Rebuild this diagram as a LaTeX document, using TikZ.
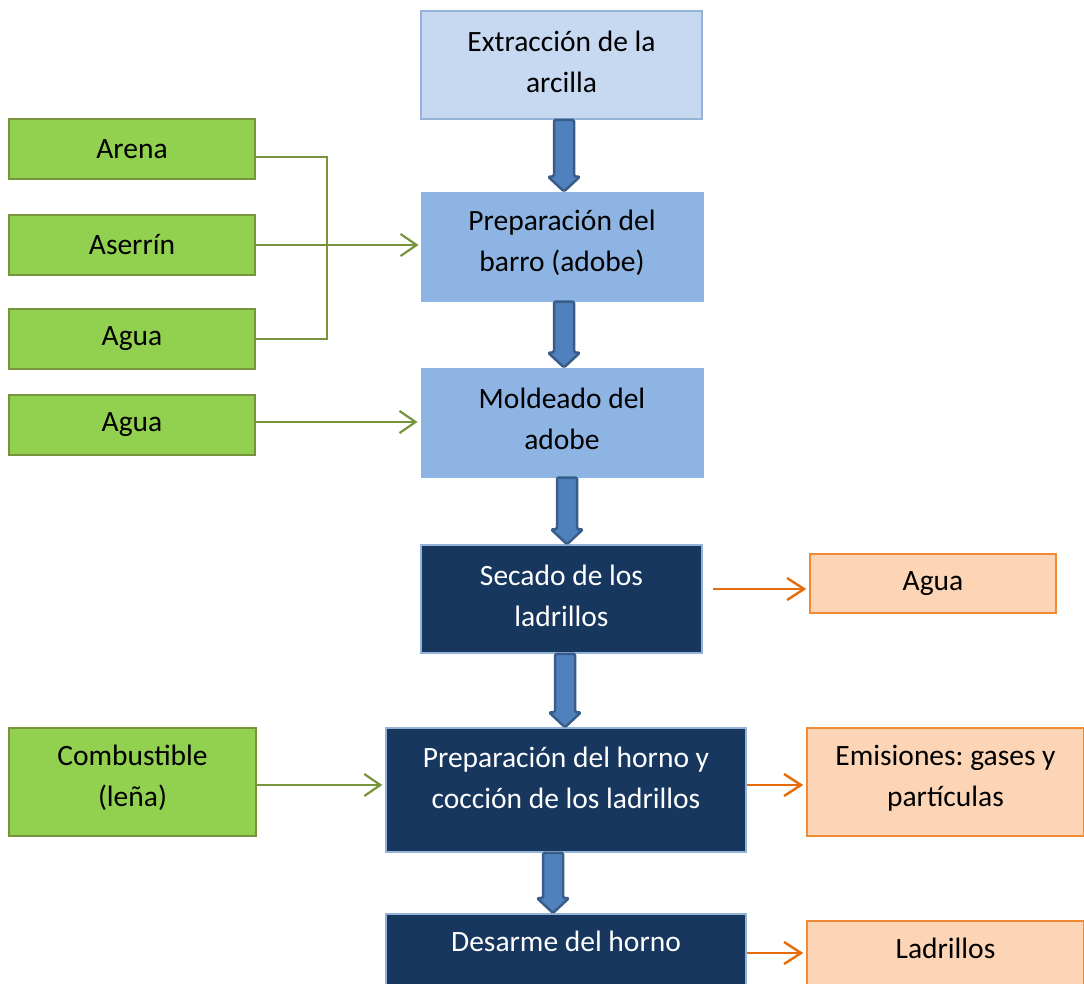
\documentclass[tikz,border=0pt]{standalone}
\usepackage{fontspec}
\setmainfont{Carlito}
\usetikzlibrary{calc,arrows.meta}
\definecolor{lightfill}{HTML}{C6D9F1}
\definecolor{lightdraw}{HTML}{95B3D7}
\definecolor{midfill}{HTML}{8DB4E2}
\definecolor{darkfill}{HTML}{17375E}
\definecolor{greenfill}{HTML}{92D050}
\definecolor{greendraw}{HTML}{77933C}
\definecolor{orangefill}{HTML}{FBD5B5}
\definecolor{orangedraw}{HTML}{F08A35}
\definecolor{orangeline}{HTML}{E46C0A}
\definecolor{arrfill}{HTML}{4F81BD}
\definecolor{arrdraw}{HTML}{385D8A}
\tikzset{
  txt/.style={font=\fontsize{29.5}{41}\selectfont\frenchspacing, align=center, inner sep=0pt},
  wtxt/.style={txt, text=white},
  lightbox/.style={txt, rectangle, fill=lightfill, draw=lightdraw, line width=1.5pt},
  midbox/.style={txt, rectangle, fill=midfill, draw=midfill, line width=1pt},
  darkbox/.style={txt, rectangle, fill=darkfill, draw=lightdraw, line width=1.5pt, text=white},
  greenbox/.style={txt, rectangle, fill=greenfill, draw=greendraw, line width=1.5pt},
  orangebox/.style={txt, rectangle, fill=orangefill, draw=orangedraw, line width=1.5pt},
  gline/.style={draw=greendraw, line width=2.2pt},
  garrow/.style={gline, -{Straight Barb[length=16pt,width=22pt]}},
  oarrow/.style={draw=orangeline, line width=2.4pt, -{Straight Barb[length=17pt,width=22pt]}},
  barrow/.style={fill=arrfill, draw=arrdraw, line width=2.5pt, rounded corners=1.5pt, line join=round},
}
\newcommand{\blockarr}[3]{%
  \draw[barrow] let \p1=($(#1.south)+(#3,0)$), \p2=(#2.north) in
    (\x1-10pt,\y1) -- (\x1+10pt,\y1) -- (\x1+10pt,\y2+15pt) -- (\x1+16pt,\y2+15pt)
    -- (\x1,\y2) -- (\x1-16pt,\y2+15pt) -- (\x1-10pt,\y2+15pt) -- cycle;}
\begin{document}
\begin{tikzpicture}[x=1pt,y=-1pt]
\clip (0,0) rectangle (1084,983);
\fill[white] (0,0) rectangle (1084,983);
% main column
\node[lightbox, minimum width=281pt, minimum height=108pt,
  label={[txt, yshift=3.5pt]center:Extracción de la\\arcilla}] (ext) at (561.5,65) {};
\node[midbox, minimum width=282pt, minimum height=109pt,
  label={[txt, yshift=3.5pt]center:Preparación del\\barro (adobe)}] (barro) at (562,246.5) {};
\node[midbox, minimum width=282pt, minimum height=109pt,
  label={[txt, yshift=3.5pt]center:Moldeado del\\adobe}] (mold) at (562,422.5) {};
\node[darkbox, minimum width=281pt, minimum height=108pt,
  label={[wtxt, yshift=3.5pt]center:Secado de los\\ladrillos}] (sec) at (561.5,599) {};
\node[darkbox, minimum width=360pt, minimum height=124pt,
  label={[wtxt, yshift=12pt]center:Preparación del horno y\\cocción de los ladrillos}] (horno) at (566,790) {};
\node[darkbox, minimum width=360pt, text height=38pt, text depth=86pt, anchor=north] (desarme) at (566,913) {Desarme del horno};
% inputs
\node[greenbox, minimum width=246pt, minimum height=60pt] (arena) at (132,149) {Arena};
\node[greenbox, minimum width=246pt, minimum height=60pt] (aserrin) at (132,245) {Aserrín};
\node[greenbox, minimum width=246pt, minimum height=60pt] (agua1) at (132,339) {Agua};
\node[greenbox, minimum width=246pt, minimum height=60pt] (agua2) at (132,425) {Agua};
\node[greenbox, minimum width=247pt, minimum height=108pt,
  label={[txt, yshift=4pt]center:Combustible\\(leña)}] (comb) at (132.5,782) {};
% outputs
\node[orangebox, minimum width=246pt, minimum height=59pt] (aguaout) at (933,583.5) {Agua};
\node[orangebox, minimum width=277pt, minimum height=108pt,
  label={[txt, yshift=4pt]center:Emisiones: gases y\\partículas}] (emis) at (945.5,782) {};
\node[orangebox, minimum width=277pt, text height=38pt, text depth=70pt, anchor=north] (ladr) at (945.5,920) {Ladrillos};
% block arrows
\blockarr{ext}{barro}{2.5}
\blockarr{barro}{mold}{2}
\blockarr{mold}{sec}{5}
\blockarr{sec}{horno}{3.5}
\blockarr{horno}{desarme}{-13}
% green connectors
\coordinate (a1) at ($(arena.east)+(0,8)$);
\coordinate (jx) at (327,0);
\draw[gline] (a1) -| (jx |- agua1.east) -- (agua1.east);
\draw[garrow, shorten >=2pt] (aserrin.east) -- (aserrin.east -| barro.west);
\coordinate (g2) at ($(agua2.east)+(0,-3)$);
\draw[garrow, shorten >=3pt] (g2) -- (g2 -| mold.west);
\coordinate (g3) at ($(comb.east)+(0,3)$);
\draw[garrow, shorten >=3pt] (g3) -- (g3 -| horno.west);
% orange outputs
\coordinate (s1) at ($(sec.east)+(10,-10)$);
\draw[oarrow, shorten >=3pt] (s1) -- (s1 -| aguaout.west);
\coordinate (h1) at ($(horno.east)+(0,-5)$);
\draw[oarrow, shorten >=3pt] (h1) -- (h1 -| emis.west);
\coordinate (d1) at ($(desarme.north east)+(0,40)$);
\draw[oarrow, shorten >=3pt] (d1) -- (d1 -| ladr.west);
\end{tikzpicture}
\end{document}
